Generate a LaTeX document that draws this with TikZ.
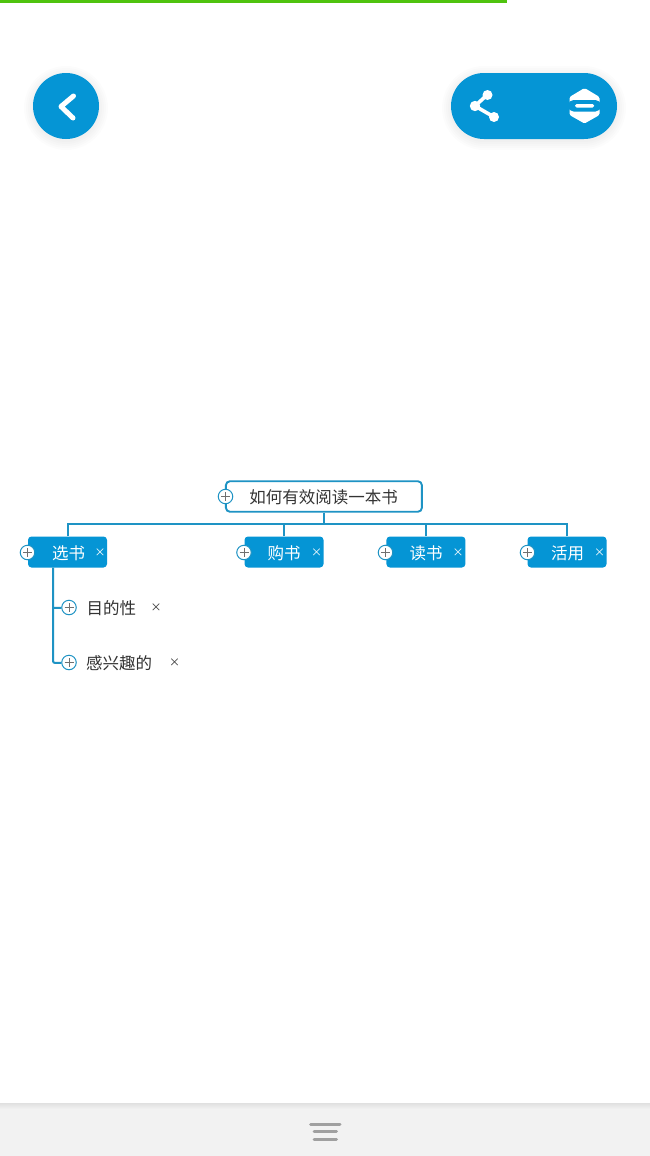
\documentclass[tikz,border=0pt]{standalone}
\usepackage{fontspec}
\setmainfont{Noto Sans CJK SC}
\usetikzlibrary{calc}
\definecolor{mapblue}{HTML}{0595D5}
\definecolor{linkblue}{HTML}{1E93C4}
\definecolor{txtdark}{HTML}{333333}
\definecolor{barbg}{HTML}{F2F2F2}
\definecolor{bargrey}{HTML}{A0A0A0}
\definecolor{progress}{HTML}{4FC30F}
\tikzset{
  rootbox/.style={draw=linkblue,line width=1.9pt,fill=white,rounded corners=4pt,minimum width=196pt,minimum height=30.5pt,inner sep=0pt},
  topicbox/.style={fill=mapblue,rounded corners=3.5pt,minimum width=79pt,minimum height=31pt,inner sep=0pt},
  lbl/.style={inner sep=0pt,font=\fontsize{16.5pt}{18pt}\selectfont},
  closemark/.style={inner sep=0pt,font=\fontsize{11pt}{12pt}\selectfont},
  expander/.style={circle,draw=#1,line width=1pt,fill=white,minimum size=14.5pt,inner sep=0pt},
  link/.style={draw=linkblue,line width=2pt},
}
\newcommand{\plusmark}[2]{\draw[#2,line width=1pt] ($(#1)+(-4.5,0)$) -- ($(#1)+(4.5,0)$) ($(#1)+(0,-4.5)$) -- ($(#1)+(0,4.5)$);}
\begin{document}
\begin{tikzpicture}[x=1pt,y=-1pt]
\useasboundingbox (0,0) rectangle (650,1156);
\fill[white] (0,0) rectangle (650,1156);
% progress bar
\fill[progress] (0,0) rectangle (506.5,3);
% button shadows
\foreach \g in {9,7,5,3,1}{
  \fill[black,opacity=0.011] (66,108) circle ({33+\g});
  \fill[black,opacity=0.011,rounded corners={33+\g}] ({451-\g},{75-\g}) rectangle ({617+\g},{141+\g});
}
% back button
\fill[mapblue] (66,106) circle (33);
\draw[white,line width=5pt,line cap=round,line join=round] (73.5,96) -- (61,106.5) -- (73,118);
% right pill
\fill[mapblue,rounded corners=33pt] (451,73) rectangle (617,139);
\draw[white,line width=3.6pt] (487,95) -- (475,106) -- (494,117);
\fill[white] (487.5,95) circle (5) (475,106) circle (5.2) (494,117) circle (5);
% hexagon icon
\fill[white,rounded corners=1.5pt] (584.5,88) -- (599.5,97) -- (599.5,115) -- (584.5,123.5) -- (569.5,115) -- (569.5,97) -- cycle;
\fill[mapblue,rounded corners=5.5pt] (568,100) rectangle (601,111.5);
\fill[white,rounded corners=1.5pt] (575,104) rectangle (594,107.5);
% bottom bar
\shade[top color=black!12,bottom color=barbg] (0,1103) rectangle (650,1109);
\fill[barbg] (0,1109) rectangle (650,1156);
\draw[bargrey,line width=3pt,line cap=round] (310.5,1124) -- (340,1124);
\draw[bargrey,line width=3pt,line cap=round] (314,1131.5) -- (336.5,1131.5);
\draw[bargrey,line width=3pt,line cap=round] (314,1139) -- (336.5,1139);
% nodes
\node[rootbox] (root) at (323.9,496.5) {};
\node[lbl,text=txtdark] (roott) at (323.5,497) {如何有效阅读一本书};
\node[topicbox] (t1) at (67.5,552) {};
\node[topicbox] (t2) at (284,552) {};
\node[topicbox] (t3) at (425.9,552) {};
\node[topicbox] (t4) at (567,552) {};
\coordinate (bus) at (323.9,524);
\coordinate (s1) at (53,608);
\coordinate (s2) at (53,663);
% connectors
\draw[link] (root.south) -- (bus);
\draw[link] (t1.north) |- (bus);
\draw[link] (t2.north) |- (bus);
\draw[link] (t3.north) |- (bus);
\draw[link] (t4.north) |- (bus);
\node[expander=linkblue] (e0) at (225.5,496.5) {};
\plusmark{e0}{txtdark!70}
\node[expander=linkblue] (e1) at (27.5,552.5) {};
\plusmark{e1}{txtdark!70}
\node[expander=linkblue] (e2) at (244,552.5) {};
\plusmark{e2}{txtdark!70}
\node[expander=linkblue] (e3) at (385.5,552.5) {};
\plusmark{e3}{txtdark!70}
\node[expander=linkblue] (e4) at (527.5,552.5) {};
\plusmark{e4}{txtdark!70}
\node[expander=linkblue] (e5) at (69,607.5) {};
\plusmark{e5}{txtdark!70}
\node[expander=linkblue] (e6) at (69,662.5) {};
\plusmark{e6}{txtdark!70}
\draw[link,rounded corners=2pt] (t1.south -| s1) -- (s2) -- (e6);
\draw[link] (s1) -- (e5);
\node[lbl,text=white] (t1t) at (68.5,553) {选书};
\node[lbl,text=white] (t2t) at (284,553) {购书};
\node[lbl,text=white] (t3t) at (426,553) {读书};
\node[lbl,text=white] (t4t) at (567.5,553) {活用};
\node[lbl,text=txtdark,anchor=west] (s1t) at (86.5,608) {目的性};
\node[lbl,text=txtdark,anchor=west] (s2t) at (86,663) {感兴趣的};
\node[closemark,text=white] (x1) at (100,552.5) {×};
\node[closemark,text=white] (x2) at (316.5,552.5) {×};
\node[closemark,text=white] (x3) at (458,552.5) {×};
\node[closemark,text=white] (x4) at (599.5,552.5) {×};
\node[closemark,text=txtdark] (x5) at (156,608) {×};
\node[closemark,text=txtdark] (x6) at (174.5,663) {×};
\end{tikzpicture}
\end{document}
